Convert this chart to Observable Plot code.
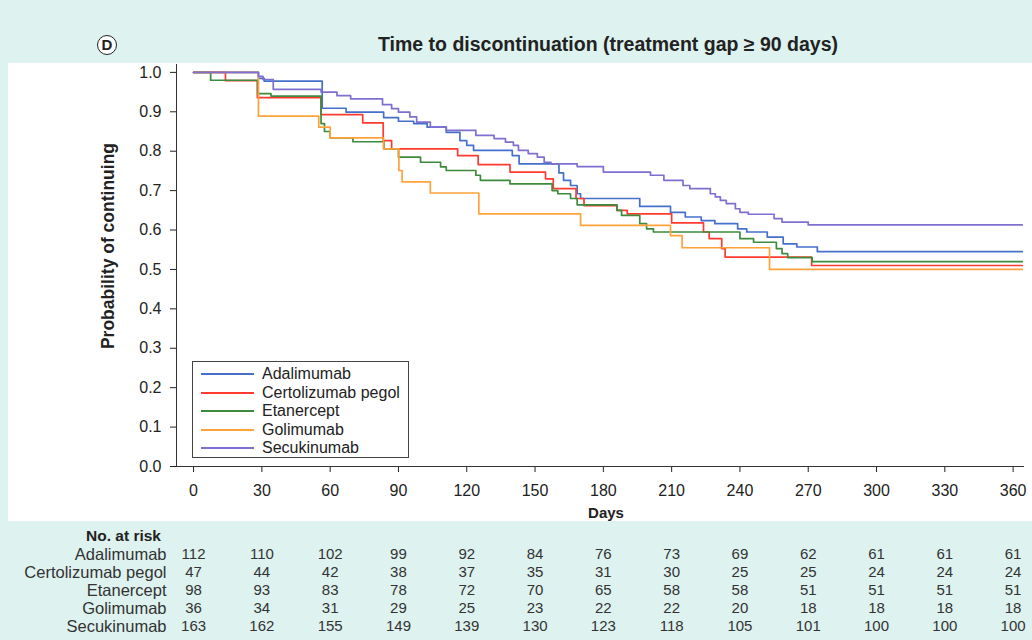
<!DOCTYPE html>
<html><head><meta charset="utf-8">
<script src="https://cdn.jsdelivr.net/npm/d3@7"></script>
<script src="https://cdn.jsdelivr.net/npm/@observablehq/plot@0.6"></script>
<style>
body{margin:0;background:#def2ef;font-family:"Liberation Sans",Arial,Helvetica,sans-serif;color:#222;}
#wrap{position:relative;width:1032px;height:640px;overflow:hidden;background:#def2ef;}
#panel{position:absolute;left:8px;top:63px;width:1024px;height:458px;background:#fff;}
.abs{position:absolute;}
#title{left:0;width:1216px;top:33px;text-align:center;font-weight:bold;font-size:19.5px;white-space:nowrap;}
#badge{left:97px;top:35px;width:18px;height:18px;border:1.5px solid #222;border-radius:50%;text-align:center;font-weight:bold;font-size:15px;line-height:18px;background:#fff;}
#ylab{left:108px;top:246px;transform:translate(-50%,-50%) rotate(-90deg);font-weight:bold;font-size:17.5px;white-space:nowrap;}
#days{left:606px;top:504px;transform:translateX(-50%);font-weight:bold;font-size:15px;}
#norisk{right:871px;top:527px;font-weight:bold;font-size:15.5px;white-space:nowrap;}
#legend{left:192px;top:361px;width:217px;height:97px;border:1px solid #444;background:#fff;box-sizing:border-box;font-size:16px;}
.lrow{position:absolute;left:0;height:18px;line-height:18px;white-space:nowrap;}
.lrow span.sw{position:absolute;left:8px;top:8px;width:53px;height:0;border-top:2px solid;}
.lrow span.tx{position:absolute;left:69px;top:0;}
#main,#table{left:0;}
#main{top:40px;}
#table{top:525px;}
</style></head>
<body>
<div id="wrap">
  <div id="panel"></div>
  <div id="main" class="abs"></div>
  <div id="badge" class="abs">D</div>
  <div id="title" class="abs">Time to discontinuation (treatment gap ≥ 90 days)</div>
  <div id="ylab" class="abs">Probability of continuing</div>
  <div id="days" class="abs">Days</div>
  <div id="legend" class="abs"></div>
  <div id="norisk" class="abs">No. at risk</div>
  <div id="table" class="abs"></div>
</div>
<script>
// ---- data ----
const drugs = ["Adalimumab", "Certolizumab pegol", "Etanercept", "Golimumab", "Secukinumab"];
const colors = ["#4470cc", "#ff3b30", "#3d8b3d", "#ffa23a", "#7e6fd0"];
const xTicks = [0, 30, 60, 90, 120, 150, 180, 210, 240, 270, 300, 330, 360];
const yTicks = [0, 0.1, 0.2, 0.3, 0.4, 0.5, 0.6, 0.7, 0.8, 0.9, 1.0];
const xMin = -7.5, xMax = 365, endDay = 364;

// Kaplan-Meier steps: [day, probability from that day on]
const adalimumab = [[0,1],[28.5,0.985],[31,0.978],[56.5,0.909],[67,0.899],[83.5,0.885],[90,0.876],[96.7,0.87],[102.6,0.861],[111,0.848],[117,0.827],[120,0.815],[123,0.802],[140,0.789],[143,0.768],[160.5,0.745],[162.5,0.726],[165.6,0.713],[168.5,0.692],[170,0.68],[196,0.66],[209.5,0.645],[216,0.633],[223,0.624],[229,0.616],[239,0.603],[243,0.595],[252,0.582],[259,0.565],[265,0.557],[274,0.545]];
const certolizumab = [[0,1],[14,0.979],[28,0.936],[56,0.893],[74.3,0.872],[83.3,0.827],[87,0.806],[116,0.789],[125,0.766],[139,0.747],[154.6,0.73],[158,0.705],[168,0.68],[171.5,0.662],[186,0.65],[190.5,0.641],[210,0.618],[224,0.595],[226.5,0.578],[232,0.553],[233.5,0.531],[271.5,0.51]];
const etanercept = [[0,1],[7.5,0.98],[28.2,0.946],[34,0.94],[56,0.87],[57.5,0.85],[60,0.834],[70,0.824],[83.6,0.806],[90,0.785],[99.7,0.772],[108.5,0.76],[111,0.751],[124,0.739],[126,0.726],[139,0.717],[157.5,0.70],[160,0.692],[165.6,0.68],[168.5,0.664],[186,0.65],[188,0.637],[196,0.616],[199,0.603],[202,0.595],[240,0.578],[246,0.569],[256,0.553],[258.5,0.54],[261,0.53],[271.7,0.52]];
const golimumab = [[0,1],[28.5,0.889],[55,0.861],[60,0.834],[83.4,0.806],[90.2,0.751],[91.6,0.722],[104,0.694],[125.3,0.641],[170,0.612],[209.5,0.586],[214.6,0.555],[253,0.50]];
const secukinumab = [[0,1],[28.5,0.99],[30.5,0.982],[35,0.957],[56,0.95],[63,0.941],[69,0.933],[83,0.918],[87,0.908],[90,0.899],[95,0.887],[98,0.874],[104,0.861],[111,0.853],[124,0.84],[132,0.832],[137,0.823],[140.5,0.815],[142.7,0.802],[147,0.794],[151,0.785],[154,0.772],[157,0.768],[168.5,0.761],[180,0.747],[200.7,0.739],[206.6,0.726],[215,0.713],[218,0.705],[227,0.692],[229.2,0.684],[231.4,0.675],[234,0.667],[238,0.654],[240,0.645],[243.7,0.64],[255,0.629],[258.5,0.62],[270,0.613]];

// Numbers at risk at each x tick
const riskAdalimumab   = [112,110,102,99,92,84,76,73,69,62,61,61,61];
const riskCertolizumab = [47,44,42,38,37,35,31,30,25,25,24,24,24];
const riskEtanercept   = [98,93,83,78,72,70,65,58,58,51,51,51,51];
const riskGolimumab    = [36,34,31,29,25,23,22,22,20,18,18,18,18];
const riskSecukinumab  = [163,162,155,149,139,130,123,118,105,101,100,100,100];

// ---- build tables ----
const curves = [adalimumab, certolizumab, etanercept, golimumab, secukinumab];
const rows = [];
curves.forEach((c, i) => {
  c.forEach(([day, p]) => rows.push({drug: drugs[i], day, p}));
  rows.push({drug: drugs[i], day: endDay, p: c[c.length - 1][1]});
});
const risks = [riskAdalimumab, riskCertolizumab, riskEtanercept, riskGolimumab, riskSecukinumab];
const riskRows = [];
risks.forEach((r, i) => r.forEach((n, j) => riskRows.push({drug: drugs[i], day: xTicks[j], n})));

const font = '"Liberation Sans", Arial, Helvetica, sans-serif';

const main = Plot.plot({
  width: 1032, height: 490,
  marginLeft: 176, marginRight: 8, marginTop: 24, marginBottom: 64,
  style: {background: "transparent", fontFamily: font, fontSize: "16px", color: "#222"},
  x: {domain: [xMin, xMax]},
  y: {domain: [0, 1.02]},
  color: {domain: drugs, range: colors},
  marks: [
    Plot.axisX({ticks: xTicks, tickSize: 6, tickPadding: 12, tickFormat: d => d, label: null}),
    Plot.axisY({ticks: yTicks, tickSize: 6, tickPadding: 9, tickFormat: d => d.toFixed(1), label: null}),
    Plot.ruleX([xMin], {stroke: "#333"}),
    Plot.ruleY([0], {stroke: "#333"}),
    Plot.line(rows, {x: "day", y: "p", z: "drug", stroke: "drug", curve: "step-after", strokeWidth: 1.7})
  ]
});
document.getElementById("main").appendChild(main);

const table = Plot.plot({
  width: 1032, height: 115,
  marginLeft: 176, marginRight: 8, marginTop: 28, marginBottom: 13,
  style: {background: "transparent", fontFamily: font, fontSize: "15px", color: "#333"},
  x: {domain: [xMin, xMax], axis: null},
  y: {domain: drugs, type: "point", padding: 0, axis: null},
  marks: [
    Plot.axisY({tickSize: 0, tickPadding: 10, label: null, fontSize: 16.5}),
    Plot.text(riskRows, {x: "day", y: "drug", text: "n", fill: "#333", fontSize: 15})
  ]
});
document.getElementById("table").appendChild(table);

// legend
const legend = document.getElementById("legend");
drugs.forEach((d, i) => {
  const row = document.createElement("div");
  row.className = "lrow";
  row.style.top = (3 + i * 18.5) + "px";
  row.innerHTML = `<span class="sw" style="border-color:${colors[i]}"></span><span class="tx">${d}</span>`;
  legend.appendChild(row);
});
</script>
</body></html>
